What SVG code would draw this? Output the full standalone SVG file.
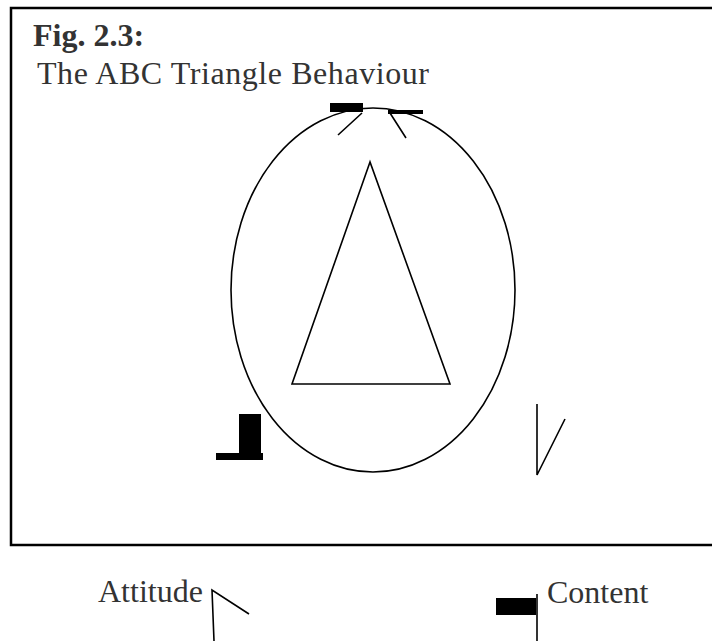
<svg xmlns="http://www.w3.org/2000/svg" width="712" height="641" viewBox="0 0 712 641">
<style>
.ln{fill:none;stroke:#000;stroke-width:1.6}
.blk{fill:#000}
.t{font-family:"Liberation Serif","Times New Roman",serif;font-size:32px;fill:#333}
</style>
<rect width="712" height="641" fill="#fff"/>
<g id="frame"><rect x="11" y="8" width="712" height="537" fill="none" stroke="#000" stroke-width="2.5"/></g>
<g id="title">
<text class="t" x="33" y="46" font-weight="bold" font-size="31">Fig. 2.3:</text>
<text class="t" x="37" y="84" font-size="31" textLength="392" lengthAdjust="spacing">The ABC Triangle Behaviour</text>
</g>
<g id="circle"><ellipse class="ln" cx="373" cy="290" rx="142" ry="182"/></g>
<g id="triangle"><polygon class="ln" points="370,162 292,384 450,384"/></g>
<g id="connectors">
<rect class="blk" x="330" y="103" width="33" height="9"/>
<rect class="blk" x="388" y="110" width="35" height="4"/>
<path class="ln" d="M362,113 L338,135 M390,113 L406,138"/>
<rect class="blk" x="239" y="414" width="22" height="41"/>
<rect class="blk" x="216" y="453" width="47" height="7"/>
<path class="ln" d="M537,404 V475 L565,419"/>
<path class="ln" d="M214,641 L212,590 L249,614"/>
<rect class="blk" x="496" y="598" width="40" height="17"/>
<path class="ln" d="M537,594 V641"/>
</g>
<g id="attitude"><text class="t" x="98" y="602">Attitude</text></g>
<g id="content"><text class="t" x="547" y="603">Content</text></g>
</svg>
